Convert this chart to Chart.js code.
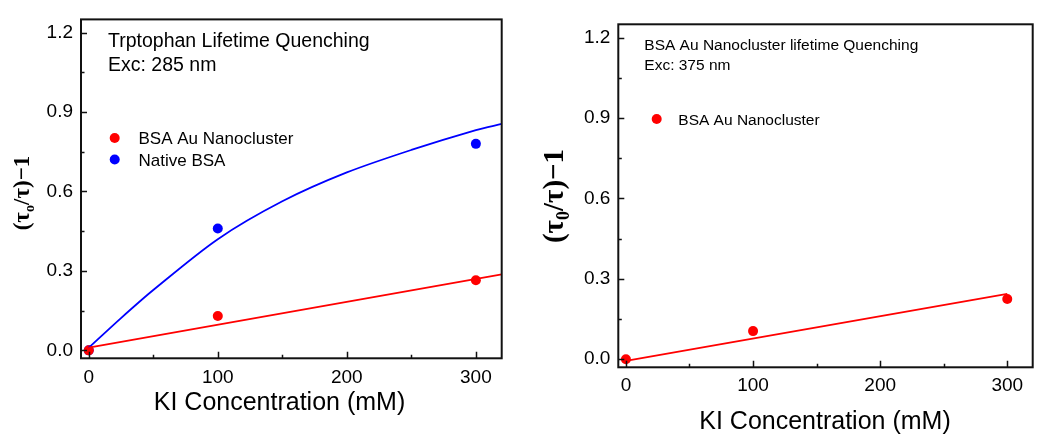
<!DOCTYPE html>
<html><head><meta charset="utf-8">
<script src="https://cdn.jsdelivr.net/npm/chart.js@4.4.1/dist/chart.umd.min.js"></script>
<style>
html,body{margin:0;padding:0;background:#fff;width:1050px;height:443px;overflow:hidden}
canvas{position:absolute;top:0}
#c1{left:0}#c2{left:525px}
</style></head>
<body>
<canvas id="c1" width="525" height="443"></canvas>
<canvas id="c2" width="525" height="443"></canvas>
<script>
// ---- data ----
const kiConc = [0, 100, 300];
const leftGold = [0, 0.13, 0.265];
const leftNative = [0, 0.46, 0.78];
const rightGold = [0, 0.105, 0.225];
const leftGoldFitX = [0, 320];
const leftGoldFitY = [0.01, 0.287];
const leftNativeFitX = [0, 25, 50, 100, 150, 200, 250, 300, 320];
const leftNativeFitY = [0.01, 0.122, 0.228, 0.42, 0.563, 0.672, 0.757, 0.832, 0.855];
const rightGoldFitX = [0, 300];
const rightGoldFitY = [-0.006, 0.244];
const yMajorTicks = [0, 0.3, 0.6, 0.9, 1.2];
const yMinorTicks = [0.15, 0.45, 0.75, 1.05];
const xMajorTicks = [0, 100, 200, 300];
const xMinorTicks = [50, 150, 250];
const seriesNames = ['BSA Au Nanocluster', 'Native BSA'];
const xTitle = 'KI Concentration (mM)';
const leftHeading = ['Trptophan Lifetime Quenching', 'Exc: 285 nm'];
const rightHeading = ['BSA Au Nanocluster lifetime Quenching', 'Exc: 375 nm'];

const RED = 'rgb(255,0,0)', BLUE = 'rgb(0,0,255)';
const SANS = '"Liberation Sans", Arial, sans-serif';
const SERIF = '"Liberation Serif", "Times New Roman", serif';
const pts = (xs, ys) => xs.map((x, i) => ({x, y: ys[i]}));

function drawYTitle(ctx, cx, cy, size, sub) {
  const parts = [
    {t: '(τ', s: size, dy: 0},
    {t: sub, s: size * 0.62, dy: size * 0.3},
    {t: '/τ)−1', s: size, dy: 0}
  ];
  ctx.save();
  ctx.translate(cx, cy);
  ctx.rotate(-Math.PI / 2);
  ctx.fillStyle = '#000';
  ctx.textBaseline = 'middle';
  ctx.textAlign = 'left';
  let total = 0;
  parts.forEach(p => { ctx.font = `bold ${p.s}px ${SERIF}`; p.w = ctx.measureText(p.t).width; total += p.w; });
  let x = -total / 2;
  parts.forEach(p => { ctx.font = `bold ${p.s}px ${SERIF}`; ctx.fillText(p.t, x, p.dy); x += p.w; });
  ctx.restore();
}

const decoPlugin = {
  id: 'deco',
  afterDatasetsDraw(chart, args, o) {
    const {ctx, chartArea: a, scales: {x, y}} = chart;
    ctx.save();
    ctx.strokeStyle = '#111';
    ctx.lineWidth = 2;
    ctx.strokeRect(a.left, a.top, a.right - a.left, a.bottom - a.top);
    ctx.lineWidth = 1.5;
    ctx.beginPath();
    yMajorTicks.forEach(v => { const p = Math.round(y.getPixelForValue(v)) + 0.5; ctx.moveTo(a.left, p); ctx.lineTo(a.left + 6, p); });
    yMinorTicks.forEach(v => { const p = Math.round(y.getPixelForValue(v)) + 0.5; ctx.moveTo(a.left, p); ctx.lineTo(a.left + 3.5, p); });
    xMajorTicks.forEach(v => { const p = Math.round(x.getPixelForValue(v)) + 0.5; ctx.moveTo(p, a.bottom); ctx.lineTo(p, a.bottom - 6.5); });
    xMinorTicks.forEach(v => { const p = Math.round(x.getPixelForValue(v)) + 0.5; ctx.moveTo(p, a.bottom); ctx.lineTo(p, a.bottom - 3.5); });
    ctx.stroke();

    ctx.fillStyle = '#000';
    ctx.textAlign = 'left';
    ctx.textBaseline = 'alphabetic';
    ctx.font = `${o.headSize}px ${SANS}`;
    o.heading.forEach((t, i) => ctx.fillText(t, o.headX, o.headY[i]));
    ctx.font = `${o.legSize}px ${SANS}`;
    o.legend.forEach((e, i) => {
      const ds = chart.data.datasets[e.ds];
      ctx.fillStyle = ds.backgroundColor;
      ctx.beginPath();
      ctx.arc(o.legMarkX, o.legMarkY[i], 5, 0, Math.PI * 2);
      ctx.fill();
      ctx.fillStyle = '#000';
      ctx.fillText(ds.label, o.legTextX, o.legTextY[i]);
    });
    ctx.font = `25px ${SANS}`;
    ctx.textAlign = 'center';
    ctx.fillText(xTitle, o.xTitleX, o.xTitleY);
    ctx.restore();
    drawYTitle(ctx, o.yTitleX, o.yTitleY, o.yTitleSize, o.sub);
  }
};

function scatterSet(label, xs, ys, color) {
  return {label, data: pts(xs, ys), backgroundColor: color, borderColor: color,
          pointRadius: 5, pointHoverRadius: 5, pointBorderWidth: 0, showLine: false};
}
function fitSet(xs, ys, color, tension) {
  return {label: 'fit', data: pts(xs, ys), borderColor: color, backgroundColor: color,
          borderWidth: 1.8, pointRadius: 0, showLine: true, tension: tension || 0};
}

function makeChart(id, area, datasets, deco) {
  return new Chart(document.getElementById(id), {
    type: 'scatter',
    data: {datasets},
    options: {
      responsive: false, animation: false, devicePixelRatio: 1,
      layout: {padding: {left: 0, top: area.top, right: area.right, bottom: 0}},
      plugins: {legend: {display: false}, tooltip: {enabled: false}, deco},
      scales: {
        x: {
          type: 'linear', min: -6, max: 320,
          afterBuildTicks: s => { s.ticks = xMajorTicks.map(v => ({value: v})); },
          afterFit: s => { s.height = area.xh; },
          grid: {display: false, drawTicks: false}, border: {display: false},
          ticks: {padding: area.xpad, color: '#000', font: {family: SANS, size: 19},
                  maxRotation: 0, autoSkip: false, callback: v => String(v)}
        },
        y: {
          type: 'linear', min: -0.03, max: 1.25,
          afterBuildTicks: s => { s.ticks = yMajorTicks.map(v => ({value: v})); },
          afterFit: s => { s.width = area.yw; },
          grid: {display: false, drawTicks: false}, border: {display: false},
          ticks: {padding: 8, color: '#000', font: {family: SANS, size: 19},
                  autoSkip: false, callback: v => Number(v).toFixed(1)}
        }
      }
    },
    plugins: [decoPlugin]
  });
}

makeChart('c1', {top: 15.7, right: 23.3, xh: 84.7, yw: 81, xpad: 8},
  [
    fitSet(leftGoldFitX, leftGoldFitY, RED),
    fitSet(leftNativeFitX, leftNativeFitY, BLUE, 0.3),
    scatterSet(seriesNames[0], kiConc, leftGold, RED),
    scatterSet(seriesNames[1], kiConc, leftNative, BLUE)
  ],
  {heading: leftHeading, headSize: 19.5, headX: 108, headY: [46.7, 70.7],
   legend: [{ds: 2}, {ds: 3}], legSize: 17, legMarkX: 114.7, legMarkY: [138, 159.5],
   legTextX: 138.5, legTextY: [144, 165.5],
   xTitleX: 279.5, xTitleY: 409.5, yTitleX: 23, yTitleY: 193, yTitleSize: 23, sub: 'o'});

makeChart('c2', {top: 24.3, right: 17.3, xh: 75.7, yw: 93.3, xpad: 7},
  [
    fitSet(rightGoldFitX, rightGoldFitY, RED),
    scatterSet(seriesNames[0], kiConc, rightGold, RED)
  ],
  {heading: rightHeading, headSize: 15.5, headX: 119.3, headY: [50, 69.5],
   legend: [{ds: 1}], legSize: 15.5, legMarkX: 131.7, legMarkY: [119],
   legTextX: 153.3, legTextY: [124.5],
   xTitleX: 300, xTitleY: 428.5, yTitleX: 31, yTitleY: 196, yTitleSize: 29, sub: '0'});
</script>
</body></html>
